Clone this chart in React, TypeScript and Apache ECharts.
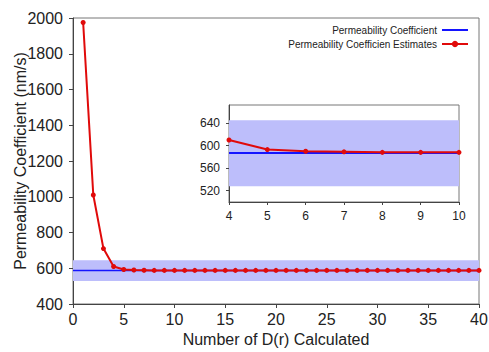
import React, { useEffect, useRef } from "react";
import * as echarts from "echarts";

// Number of D(r) calculated (x) and permeability coefficient estimates (nm/s)
const nValues: number[] = Array.from({ length: 40 }, (_, i) => i + 1);
const estimates: number[] = [
  1975, 1010, 710, 610, 593, 590, 589, 588, 588, 588,
  588, 588, 588, 588, 588, 588, 588, 588, 588, 588,
  588, 588, 588, 588, 588, 588, 588, 588, 588, 588,
  588, 588, 588, 588, 588, 588, 588, 588, 588, 588,
];
const trueCoefficient = 587;
const bandLow = 528;
const bandHigh = 645;
const insetXRange: [number, number] = [4, 10];
const insetYLabels: number[] = [520, 560, 600, 640];

const FONT = "Liberation Sans, Arial, Helvetica, sans-serif";
const RED = "#e00a0a";
const BLUE = "#1414ff";
const BAND = "#bdbefb";

export default function App() {
  const ref = useRef<HTMLDivElement>(null);
  useEffect(() => {
    if (!ref.current) return;
    const chart = echarts.init(ref.current, undefined, { renderer: "svg" });
    const estPairs = nValues.map((n, i) => [n, estimates[i]]);
    const insetPairs = estPairs.filter((p) => p[0] >= insetXRange[0] && p[0] <= insetXRange[1]);
    const markArea = {
      silent: true,
      itemStyle: { color: BAND, opacity: 1 },
      data: [[{ yAxis: bandLow }, { yAxis: bandHigh }]],
    };
    const plain = (v: number) => String(v);
    chart.setOption({
      animation: false,
      textStyle: { fontFamily: FONT },
      legend: {
        orient: "vertical",
        right: 20,
        top: 24,
        padding: 0,
        align: "right",
        itemWidth: 26,
        itemHeight: 8,
        itemGap: 2,
        textStyle: { fontSize: 10, color: "#222", lineHeight: 12, fontFamily: FONT },
        data: [
          { name: "Permeability Coefficient", itemStyle: { opacity: 0 } },
          { name: "Permeability Coefficien Estimates" },
        ],
      },
      grid: [
        { left: 73, top: 18, right: 10, bottom: 48, outerBoundsMode: "none", containLabel: false, show: true, borderColor: "#777", borderWidth: 1, backgroundColor: "#fff" },
        { left: 229, top: 105, right: 30, bottom: 150, outerBoundsMode: "none", containLabel: false, show: true, borderColor: "#777", borderWidth: 1, backgroundColor: "#fff" },
      ],
      xAxis: [
        {
          gridIndex: 0,
          type: "value",
          min: 0,
          max: 40,
          interval: 5,
          name: "Number of D(r) Calculated",
          nameLocation: "middle",
          nameGap: 27,
          nameMoveOverlap: false,
          nameTextStyle: { fontSize: 16, color: "#222", fontFamily: FONT },
          axisLine: { lineStyle: { color: "#444", width: 1 } },
          axisTick: { length: 4, lineStyle: { color: "#444" } },
          axisLabel: { fontSize: 16, color: "#222", margin: 7, fontFamily: FONT, formatter: plain },
          splitLine: { show: false },
        },
        {
          gridIndex: 1,
          type: "value",
          min: insetXRange[0],
          max: insetXRange[1],
          interval: 1,
          axisLine: { lineStyle: { color: "#444", width: 1 } },
          axisTick: { length: 3, lineStyle: { color: "#444" } },
          axisLabel: { fontSize: 12, color: "#222", margin: 8, fontFamily: FONT, formatter: plain },
          splitLine: { show: false },
        },
      ],
      yAxis: [
        {
          gridIndex: 0,
          type: "value",
          min: 400,
          max: 2000,
          interval: 200,
          name: "Permeability Coefficient (nm/s)",
          nameLocation: "middle",
          nameGap: 45,
          nameMoveOverlap: false,
          nameTextStyle: { fontSize: 16, color: "#222", fontFamily: FONT },
          axisLine: { show: true, lineStyle: { color: "#444", width: 1 } },
          axisTick: { show: true, length: 4, lineStyle: { color: "#444" } },
          axisLabel: { fontSize: 16, color: "#222", margin: 10, fontFamily: FONT, formatter: plain },
          splitLine: { show: false },
        },
        {
          gridIndex: 1,
          type: "value",
          min: 500,
          max: 672,
          axisLine: { show: true, lineStyle: { color: "#444", width: 1 } },
          axisTick: { show: true, length: 3, lineStyle: { color: "#444" }, customValues: insetYLabels },
          axisLabel: { fontSize: 12, color: "#222", margin: 9, fontFamily: FONT, customValues: insetYLabels, formatter: plain },
          splitLine: { show: false },
        },
      ],
      series: [
        {
          name: "Permeability Coefficient",
          type: "line",
          xAxisIndex: 0,
          yAxisIndex: 0,
          symbol: "none",
          lineStyle: { color: BLUE, width: 1.5 },
          itemStyle: { color: BLUE },
          data: [
            [0, trueCoefficient],
            [40, trueCoefficient],
          ],
          markArea,
          z: 2,
        },
        {
          name: "Permeability Coefficien Estimates",
          type: "line",
          xAxisIndex: 0,
          yAxisIndex: 0,
          symbol: "circle",
          symbolSize: 5,
          lineStyle: { color: RED, width: 2 },
          itemStyle: { color: RED },
          data: estPairs,
          z: 3,
        },
        {
          name: "Permeability Coefficient",
          type: "line",
          xAxisIndex: 1,
          yAxisIndex: 1,
          symbol: "none",
          lineStyle: { color: BLUE, width: 2 },
          itemStyle: { color: BLUE },
          data: [
            [insetXRange[0], trueCoefficient],
            [insetXRange[1], trueCoefficient],
          ],
          markArea,
          z: 2,
        },
        {
          name: "Permeability Coefficien Estimates",
          type: "line",
          xAxisIndex: 1,
          yAxisIndex: 1,
          symbol: "circle",
          symbolSize: 5,
          lineStyle: { color: RED, width: 2 },
          itemStyle: { color: RED },
          data: insetPairs,
          z: 3,
        },
      ],
    });
    return () => chart.dispose();
  }, []);
  return <div ref={ref} style={{ width: 489, height: 352, position: "absolute", left: 0, top: 0 }} />;
}
